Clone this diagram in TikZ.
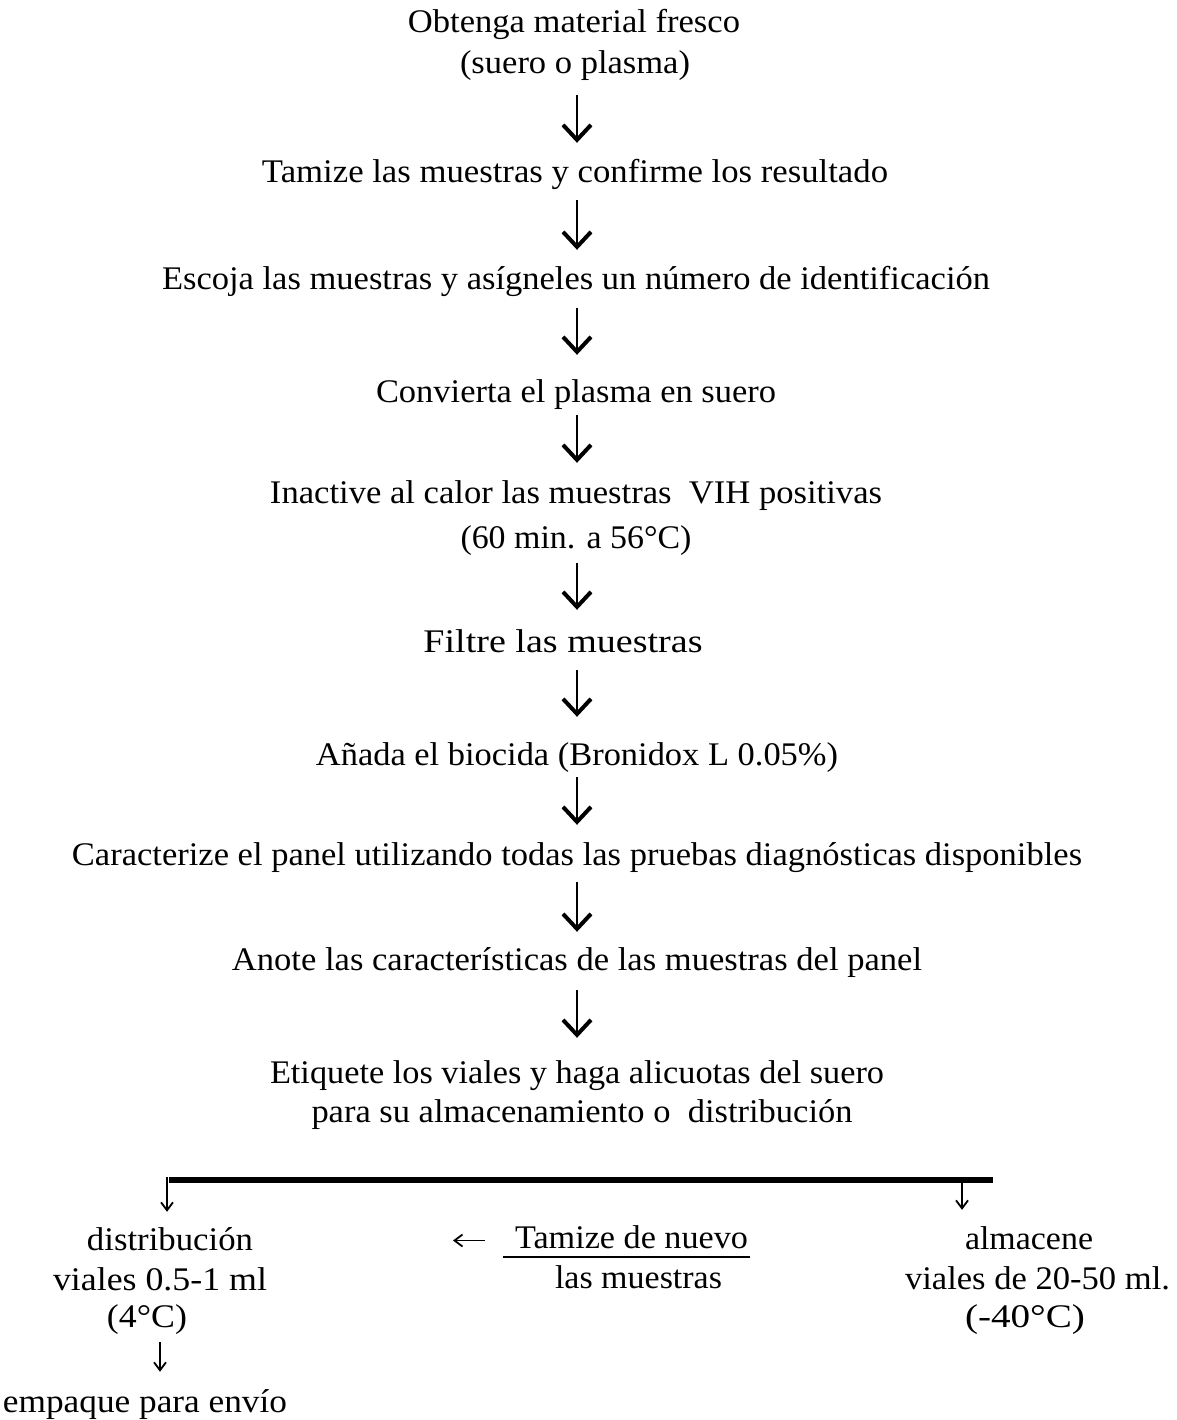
\documentclass[tikz,border=0pt]{standalone}
\usepackage{fontspec}
\usepackage{graphicx}
\setmainfont{Liberation Serif}
\usetikzlibrary{arrows.meta,calc}
\newcommand\fw[2]{\resizebox{#1pt}{\height}{#2}}
\tikzset{
  txt/.style={inner sep=0pt, anchor=base, font=\fontsize{33}{40}\selectfont, text height=23pt, text depth=8pt},
  bigarr/.style={line width=2.8pt, -{Straight Barb[length=15pt,width=28pt,line width=4pt]}},
  smallarr/.style={line width=1.4pt, -{Straight Barb[length=8pt,width=12pt,line width=1.8pt]}},
  barline/.style={line width=6pt},
  uline/.style={line width=1.4pt},
}
\begin{document}
\begin{tikzpicture}[x=1pt,y=-1pt]
\useasboundingbox (0,0) rectangle (1176,1420);
\fill[white] (0,0) rectangle (1176,1420);
\coordinate (ax) at (577,0);
% main column
\node[txt] (s1a) at (574,33) {\fw{332}{Obtenga material fresco}};
\node[txt] (s1b) at (575,74) {\fw{230}{(suero o plasma)}};
\node[txt] (s2) at (575,183) {\fw{626}{Tamize las muestras y confirme los resultado}};
\node[txt] (s3) at (576,290) {\fw{828}{Escoja las muestras y asígneles un número de identificación}};
\node[txt] (s4) at (576,402) {\fw{400}{Convierta el plasma en suero}};
\node[txt] (s5a) at (576,503) {\fw{612}{Inactive al calor las muestras\ \ VIH positivas}};
\node[txt] (s5b) at (576,548) {\fw{231}{(60 min. a 56°C)}};
\node[txt] (s6) at (563,652) {\fw{279}{Filtre las muestras}};
\node[txt] (s7) at (577,765) {\fw{522}{Añada el biocida (Bronidox L 0.05\%)}};
\node[txt] (s8) at (577,865) {\fw{1010}{Caracterize el panel utilizando todas las pruebas diagnósticas disponibles}};
\node[txt] (s9) at (577,970) {\fw{690}{Anote las características de las muestras del panel}};
\node[txt] (s10a) at (577,1083) {\fw{614}{Etiquete los viales y haga alicuotas del suero}};
\node[txt] (s10b) at (582,1122) {\fw{541}{para su almacenamiento o\ \ distribución}};
% main arrows
\draw[bigarr, shorten <=13pt, shorten >=17pt] (s1b.south -| ax) -- (s2.north -| ax);
\draw[bigarr, shorten <=9pt, shorten >=17pt] (s2.south -| ax) -- (s3.north -| ax);
\draw[bigarr, shorten <=10pt, shorten >=24pt] (s3.south -| ax) -- (s4.north -| ax);
\draw[bigarr, shorten <=5pt, shorten >=17pt] (s4.south -| ax) -- (s5a.north -| ax);
\draw[bigarr, shorten <=7pt, shorten >=19pt] (s5b.south -| ax) -- (s6.north -| ax);
\draw[bigarr, shorten <=10pt, shorten >=25pt] (s6.south -| ax) -- (s7.north -| ax);
\draw[bigarr, shorten <=4pt, shorten >=17pt] (s7.south -| ax) -- (s8.north -| ax);
\draw[bigarr, shorten <=9pt, shorten >=15pt] (s8.south -| ax) -- (s9.north -| ax);
\draw[bigarr, shorten <=12pt, shorten >=22pt] (s9.south -| ax) -- (s10a.north -| ax);
% bottom branches
\node[txt] (d1) at (170,1250) {\fw{166}{distribución}};
\node[txt] (d2) at (160,1290) {\fw{214}{viales 0.5-1 ml}};
\node[txt] (d3) at (147,1327) {\fw{80}{(4°C)}};
\node[txt] (d4) at (145,1412) {\fw{284}{empaque para envío}};
\node[txt] (t1) at (631.5,1248) {\fw{233}{Tamize de nuevo}};
\node[txt] (t2) at (638.5,1288) {\fw{167}{las muestras}};
\node[txt] (r1) at (1029,1249) {\fw{128}{almacene}};
\node[txt] (r2) at (1037.5,1289) {\fw{265}{viales de 20-50 ml.}};
\node[txt] (r3) at (1025,1327) {\fw{120}{(-40°C)}};
\coordinate (hl) at (169,1180);
\coordinate (hr) at (993,1180);
\coordinate (bl) at (167,1177);
\coordinate (br) at (962,1182);
\coordinate (la) at (453,1240.5);
\draw[barline] (hl) -- (hr);
\draw[smallarr, shorten >=15pt] (bl) -- (d1.north -| bl);
\draw[smallarr, shorten >=16pt] (br) -- (r1.north -| br);
\draw[smallarr, shorten <=7pt, shorten >=17pt] (d3.south -| d2) -- (d4.north -| d2);
\draw[smallarr, shorten <=30pt] (t1.west) -- (la);
\draw[uline] ($(t1.base west)+(-12,9)$) -- ($(t1.base east)+(2,9)$);
\end{tikzpicture}
\end{document}
